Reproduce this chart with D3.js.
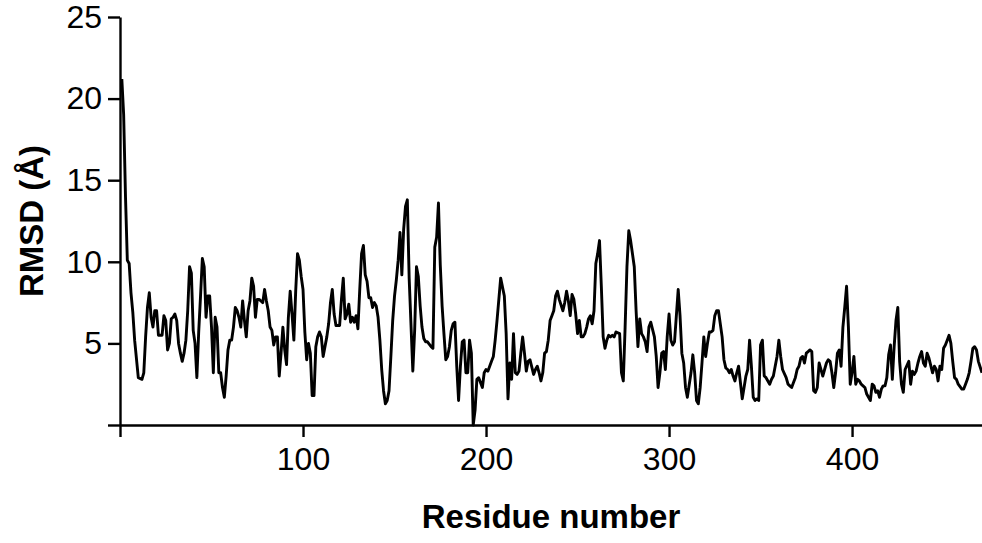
<!DOCTYPE html>
<html>
<head>
<meta charset="utf-8">
<script src="https://cdn.jsdelivr.net/npm/d3@7"></script>
<style>
  body { margin: 0; background: #fff; }
  svg { display: block; }
</style>
</head>
<body>
<script>
// residue numbers and RMSD values (Å)
var residues = [
  1,2,3,4,5,6,7,8,10,12,13,14,15,16,17,18,19,20,21,22,23,24,25,26,27,28,29,30,
  31,32,33,34,35,36,37,38,39,40,41,42,43,44,45,46,47,48,49,50,51,52,53,54,55,56,
  57,58,59,60,61,62,63,64,65,66,67,68,69,70,71,72,73,74,75,76,77,78,79,80,81,82,
  83,84,85,86,87,88,89,90,91,92,93,94,95,96,97,98,99,100,101,102,103,104,105,106,
  107,108,109,110,111,113,114,115,116,117,118,119,120,121,122,123,124,125,126,127,
  128,129,130,131,132,133,134,135,136,137,138,139,140,141,142,143,144,145,146,147,
  148,149,150,151,152,153,154,155,156,157,158,160,161,162,163,164,165,166,167,168,
  170,171,172,173,174,175,176,177,178,179,180,181,182,183,184,185,186,187,188,189,
  190,191,192,193,194,195,196,198,199,200,201,202,203,204,205,206,207,208,210,211,
  212,213,214,215,216,217,218,219,220,221,222,223,224,226,227,228,229,230,231,232,
  233,234,235,236,237,238,239,240,242,243,244,245,246,247,248,249,250,251,252,253,
  254,255,256,257,258,259,260,261,262,263,264,265,266,267,268,269,270,271,273,274,
  275,276,277,278,279,281,282,283,284,285,286,287,288,289,290,292,293,294,295,296,
  297,298,299,300,301,302,303,305,306,307,308,309,310,312,313,314,315,316,317,318,
  319,320,321,322,323,324,325,326,327,329,330,331,332,333,334,335,336,337,338,340,
  342,343,344,345,346,347,348,349,350,351,352,353,355,356,357,358,359,360,361,362,
  364,365,366,367,368,369,370,371,372,373,374,375,376,377,378,379,380,381,382,384,
  385,386,387,388,389,390,391,392,393,394,395,396,397,398,399,400,401,402,403,404,
  405,406,407,408,410,411,412,413,414,415,416,417,418,419,420,421,422,423,424,425,
  426,427,428,429,431,432,433,434,435,436,437,438,439,440,441,442,444,445,446,447,
  448,449,450,451,452,453,454,455,456,457,458,460,461,462,463,464,465,466,467,468,
  469,471
];

var rmsd = [
  21.2,19.0,14.0,10.1,9.9,8.1,6.9,5.2,2.9,2.8,3.2,5.4,7.2,8.1,6.6,6.0,7.0,7.0,5.5,5.5,5.5,6.7,6.4,4.6,5.0,6.5,6.6,6.8,
  6.4,5.0,4.4,3.9,4.4,5.2,7.0,9.7,9.3,5.8,5.0,2.9,5.7,7.9,10.2,9.7,6.6,7.9,7.9,6.0,3.2,6.6,6.0,3.2,3.2,2.3,
  1.7,3.0,4.6,5.2,5.2,6.0,7.2,7.0,6.6,6.0,7.6,6.4,5.4,7.0,7.6,9.0,8.5,6.6,7.7,7.7,7.6,7.5,8.3,7.6,7.0,6.0,
  5.8,4.9,5.4,5.4,3.0,4.4,6.0,4.6,3.7,6.6,8.2,6.8,5.2,8.2,10.5,10.1,9.1,8.3,5.7,4.0,5.0,4.4,1.8,1.8,
  4.8,5.4,5.7,5.4,4.2,5.4,6.2,7.5,8.3,6.8,6.1,6.1,6.1,7.7,9.0,6.5,6.8,7.4,6.3,6.6,
  6.3,6.7,5.9,8.3,10.5,11.0,9.2,8.8,7.8,7.8,7.2,7.5,7.3,6.6,5.2,3.4,2.1,1.3,1.5,2.1,
  4.2,6.4,7.9,8.9,10.1,11.8,9.2,12.0,13.4,13.8,9.0,3.3,5.8,9.7,9.1,7.3,6.0,5.3,5.1,5.1,
  4.8,4.7,10.9,11.5,13.6,9.8,7.3,5.6,4.0,4.2,4.8,5.8,6.2,6.3,3.6,1.5,3.6,5.1,5.2,3.2,
  3.2,5.2,4.4,0.0,0.9,2.8,2.9,2.3,3.2,3.4,3.3,3.6,3.9,4.2,5.2,6.4,7.7,9.0,7.9,5.6,
  1.6,3.8,2.8,5.6,3.2,3.1,3.3,4.4,5.4,4.4,3.3,3.9,4.0,3.1,3.4,3.6,3.2,2.7,3.2,4.4,
  4.5,5.2,6.4,6.7,7.0,7.9,8.2,7.7,7.0,7.5,8.2,7.6,6.7,8.0,7.7,6.8,5.6,6.4,5.4,5.4,
  5.6,6.0,6.5,6.7,6.2,7.0,9.9,10.5,11.3,8.5,5.4,4.7,5.2,5.5,5.4,5.5,5.4,5.7,5.6,3.2,
  2.7,6.0,9.7,11.9,11.3,9.7,7.0,4.8,6.5,5.6,5.4,5.1,4.5,6.0,6.3,5.4,4.2,2.3,3.2,4.4,
  4.5,3.4,5.4,6.8,5.2,4.9,5.1,8.3,6.7,4.4,3.8,2.3,1.7,3.2,4.3,3.2,1.5,1.3,2.3,3.8,
  5.4,4.2,5.0,5.7,5.7,5.8,6.7,7.0,7.0,5.4,4.0,3.5,3.4,3.2,3.4,3.0,2.7,3.2,3.6,1.6,
  3.0,3.4,5.2,3.6,1.7,1.5,1.6,1.5,4.9,5.2,3.0,2.9,2.5,2.8,3.0,3.6,4.2,5.2,4.2,3.4,
  2.9,2.5,2.4,2.3,2.6,2.9,3.4,3.6,4.1,4.2,3.8,4.4,4.5,4.6,4.5,2.1,2.0,2.3,3.8,3.0,
  3.4,3.8,4.0,3.9,3.2,2.3,3.2,4.4,4.6,3.6,6.0,7.2,8.5,6.0,2.5,3.2,4.2,2.5,2.8,2.7,
  2.5,2.4,2.3,1.9,1.5,2.5,2.4,2.0,2.1,1.7,2.2,2.4,2.4,2.9,4.3,4.9,2.8,4.8,6.4,7.2,
  3.9,2.5,2.0,3.4,3.9,2.5,3.3,3.1,3.3,3.8,4.2,4.5,3.8,3.6,4.4,4.1,3.2,3.6,3.4,2.7,
  3.6,3.4,4.7,4.9,5.2,5.5,5.0,3.9,2.9,2.8,2.5,2.2,2.2,2.5,2.8,3.2,3.9,4.7,4.8,4.6,
  3.9,3.2
];

var xTicks = [0, 100, 200, 300, 400];
var yTicks = [0, 5, 10, 15, 20, 25];

var width = 982, height = 543;
var fontFamily = "'Liberation Sans', Arial, Helvetica, sans-serif";

var data = residues.map(function(r, i) { return {res: r, val: rmsd[i]}; });

var svg = d3.select("body").append("svg")
    .attr("width", width).attr("height", height);

var x = d3.scaleLinear().domain([0, 471]).range([120, 982]);
var y = d3.scaleLinear().domain([0, 25]).range([425, 17]);

// x axis
var gx = svg.append("g")
    .attr("transform", "translate(0," + y(0) + ")")
    .call(d3.axisBottom(x).tickValues(xTicks).tickSize(12).tickSizeOuter(0).tickPadding(10)
      .tickFormat(function(d) { return d === 0 ? "" : d; }));

// y axis
var gy = svg.append("g")
    .attr("transform", "translate(" + x(0) + ",0)")
    .call(d3.axisLeft(y).tickValues(yTicks).tickSize(12).tickSizeOuter(0).tickPadding(6)
      .tickFormat(function(d) { return d === 0 ? "" : d; }));

[gx, gy].forEach(function(g) {
  g.attr("font-family", fontFamily).attr("font-size", 32);
  g.selectAll("path, line").attr("stroke", "#000").attr("stroke-width", 2.4);
  g.selectAll("text").attr("fill", "#000");
});

// the RMSD trace
var line = d3.line()
    .x(function(d) { return x(d.res); })
    .y(function(d) { return y(d.val); });

svg.append("path")
    .datum(data)
    .attr("fill", "none")
    .attr("stroke", "#000")
    .attr("stroke-width", 2.9)
    .attr("stroke-linejoin", "round")
    .attr("d", line);

// axis titles
svg.append("text")
    .attr("x", (x.range()[0] + x.range()[1]) / 2)
    .attr("y", 528)
    .attr("text-anchor", "middle")
    .attr("font-family", fontFamily)
    .attr("font-weight", "bold")
    .attr("font-size", 33)
    .text("Residue number");

svg.append("text")
    .attr("transform", "translate(43," + (y.range()[0] + y.range()[1]) / 2 + ") rotate(-90)")
    .attr("text-anchor", "middle")
    .attr("font-family", fontFamily)
    .attr("font-weight", "bold")
    .attr("font-size", 33)
    .text("RMSD (Å)");
</script>
</body>
</html>
